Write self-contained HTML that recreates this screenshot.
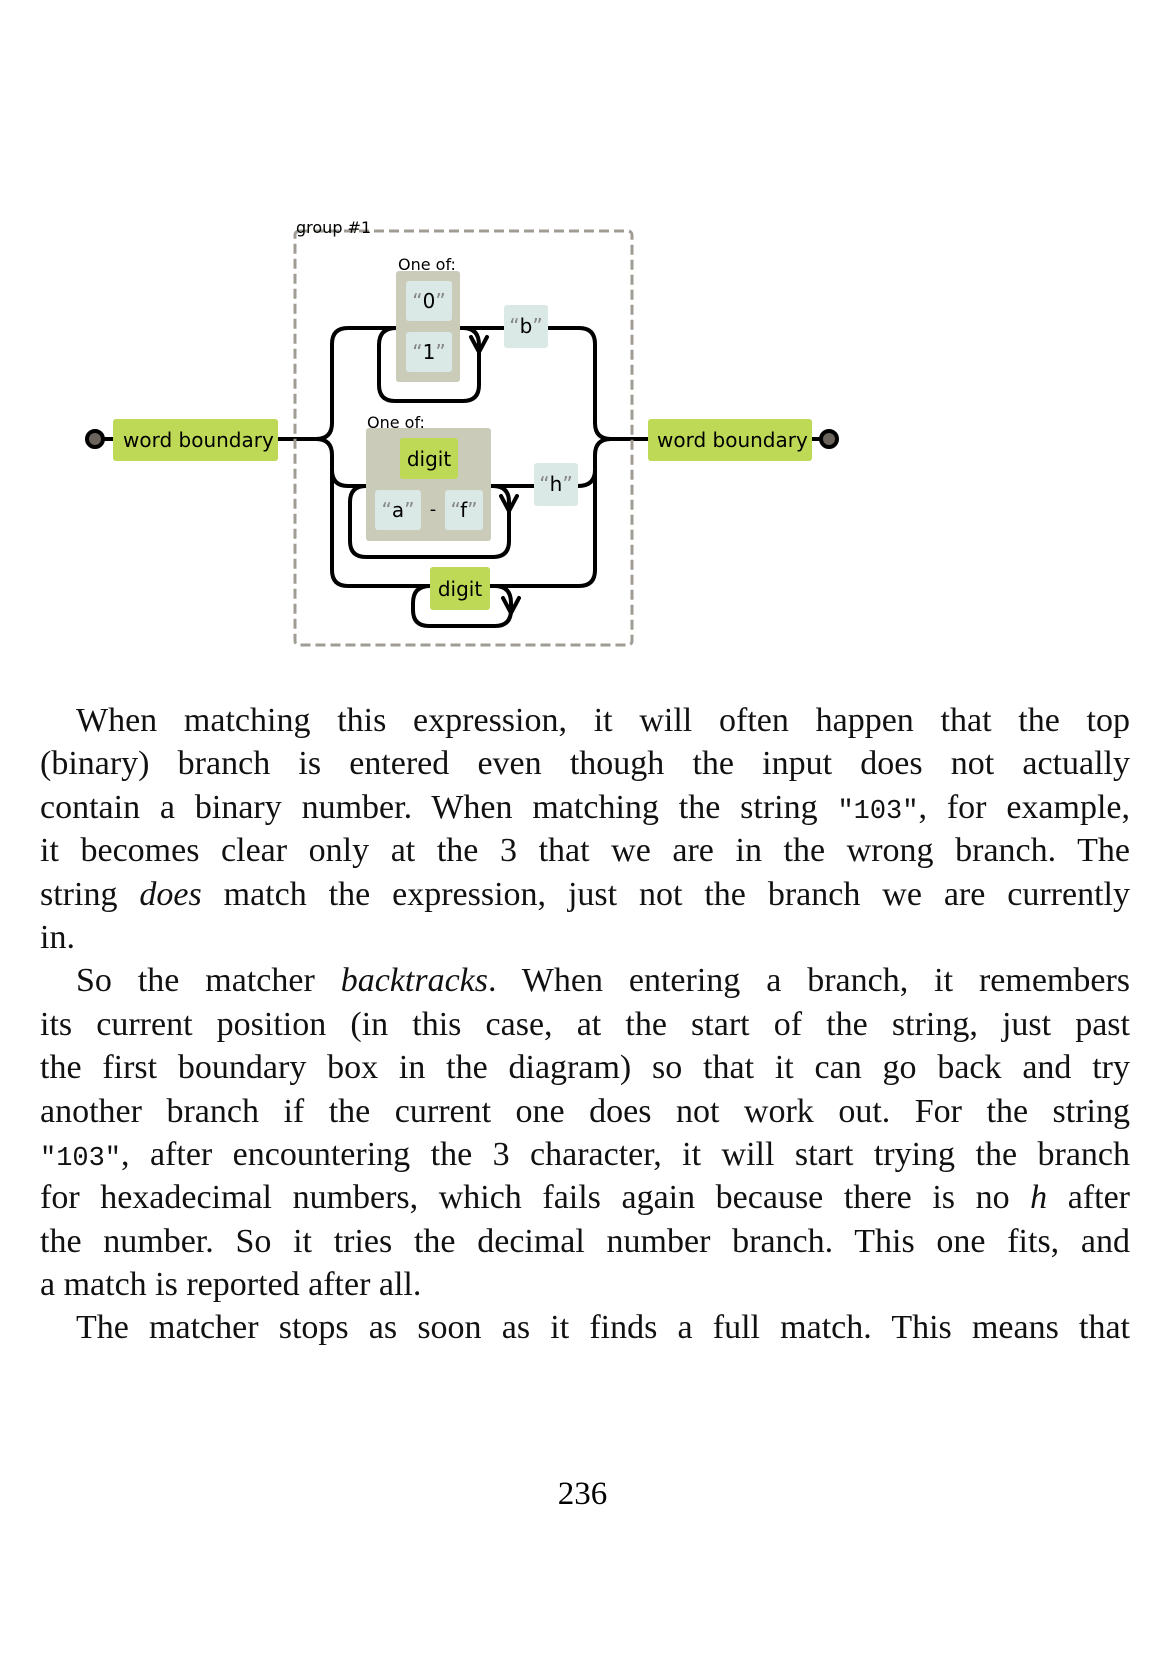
<!DOCTYPE html>
<html><head><meta charset="utf-8">
<style>
html,body{margin:0;padding:0;background:#fff;}
body{width:1165px;height:1654px;position:relative;overflow:hidden;font-family:"Liberation Serif",serif;}
#diagram{position:absolute;left:0;top:0;}
.txt{position:absolute;left:40px;width:1090px;top:699px;font-size:34px;color:#111;}
.ln{height:43.4px;line-height:43.4px;text-align:justify;text-align-last:justify;white-space:normal;}
.ln.last{text-align-last:left;}
.ind{text-indent:36px;}
code{font-family:"Liberation Mono",monospace;font-size:27px;}
#pagenum{position:absolute;left:0;width:1165px;top:1476px;text-align:center;font-size:33px;}
</style></head>
<body>
<svg id="diagram" width="1165" height="680" viewBox="0 0 1165 680" font-family="DejaVu Sans, sans-serif">
 <g fill="none" stroke="#000" stroke-width="4" stroke-linecap="round" stroke-linejoin="round">
  <path d="M95 439 H113 M278 439 H316 Q332 439 332 423 V344 Q332 328 348 328 H396 M460 328 H505 M549 328 H579 Q595 328 595 344 V423 Q595 439 611 439 H648 M812 439 H829"/>
  <path d="M316 439 Q332 439 332 455 V570 Q332 586 348 586 H430 M490 586 H579 Q595 586 595 570 V455 Q595 439 611 439"/>
  <path d="M332 470 Q332 486 348 486 H366 M491 486 H534 M578 486 Q595 486 595 470"/>
  <path d="M396 328 Q379 328 379 345 V385 Q379 401 395 401 H463 Q479 401 479 385 V345 Q479 328 463 328 H460"/>
  <path d="M471 337 L479 352 L487 337"/>
  <path d="M366 486 Q350 486 350 502 V541 Q350 557 366 557 H493 Q509 557 509 541 V502 Q509 486 493 486 H491"/>
  <path d="M501 496 L509 511 L517 496"/>
  <path d="M430 586 Q413 586 413 603 V610 Q413 626 429 626 H495 Q511 626 511 610 V603 Q511 586 495 586 H490"/>
  <path d="M503 598 L511 613 L519 598"/>
 </g>
 <circle cx="95" cy="439" r="8" fill="#6b645d" stroke="#000" stroke-width="4"/>
 <circle cx="829" cy="439" r="8" fill="#6b645d" stroke="#000" stroke-width="4"/>
 <rect x="295" y="231" width="337" height="414" rx="4" fill="none" stroke="#a09c94" stroke-width="3" stroke-dasharray="10,5"/>
 <text x="296" y="233" font-size="16" fill="#000">group #1</text>
 <g><rect x="113" y="419" width="165" height="42" rx="3" fill="#bdd955"/><text x="123" y="447" font-size="20">word boundary</text></g>
 <g><rect x="648" y="419" width="164" height="42" rx="3" fill="#bdd955"/><text x="657" y="447" font-size="20">word boundary</text></g>
 <text x="398" y="270" font-size="16">One of:</text>
 <rect x="396" y="271" width="64" height="111" rx="3" fill="#cbcbba"/>
 <rect x="406" y="281" width="46" height="40" rx="3" fill="#dae9e5"/>
 <text x="429" y="308" font-size="20" text-anchor="middle"><tspan fill="#888">“</tspan>0<tspan fill="#888">”</tspan></text>
 <rect x="406" y="332" width="46" height="40" rx="3" fill="#dae9e5"/>
 <text x="429" y="359" font-size="20" text-anchor="middle"><tspan fill="#888">“</tspan>1<tspan fill="#888">”</tspan></text>
 <rect x="504" y="305" width="44" height="43" rx="3" fill="#dae9e5"/>
 <text x="526" y="333" font-size="20" text-anchor="middle"><tspan fill="#888">“</tspan>b<tspan fill="#888">”</tspan></text>
 <text x="367" y="428" font-size="16">One of:</text>
 <rect x="366" y="428" width="125" height="113" rx="3" fill="#cbcbba"/>
 <rect x="400" y="438" width="58" height="41" rx="3" fill="#bdd955"/>
 <text x="429" y="466" font-size="20" text-anchor="middle">digit</text>
 <rect x="375" y="490" width="46" height="40" rx="3" fill="#dae9e5"/>
 <text x="398" y="517" font-size="20" text-anchor="middle"><tspan fill="#888">“</tspan>a<tspan fill="#888">”</tspan></text>
 <text x="433" y="515" font-size="18" text-anchor="middle">-</text>
 <rect x="445" y="490" width="38" height="40" rx="3" fill="#dae9e5"/>
 <text x="464" y="517" font-size="20" text-anchor="middle"><tspan fill="#888">“</tspan>f<tspan fill="#888">”</tspan></text>
 <rect x="534" y="463" width="44" height="43" rx="3" fill="#dae9e5"/>
 <text x="556" y="491" font-size="20" text-anchor="middle"><tspan fill="#888">“</tspan>h<tspan fill="#888">”</tspan></text>
 <rect x="430" y="567" width="60" height="43" rx="3" fill="#bdd955"/>
 <text x="460" y="596" font-size="20" text-anchor="middle">digit</text>
</svg>
<div class="txt">
 <div class="ln ind">When matching this expression, it will often happen that the top</div>
 <div class="ln">(binary) branch is entered even though the input does not actually</div>
 <div class="ln">contain a binary number. When matching the string <code>"103"</code>, for example,</div>
 <div class="ln">it becomes clear only at the 3 that we are in the wrong branch. The</div>
 <div class="ln">string <i>does</i> match the expression, just not the branch we are currently</div>
 <div class="ln last">in.</div>
 <div class="ln ind">So the matcher <i>backtracks</i>. When entering a branch, it remembers</div>
 <div class="ln">its current position (in this case, at the start of the string, just past</div>
 <div class="ln">the first boundary box in the diagram) so that it can go back and try</div>
 <div class="ln">another branch if the current one does not work out. For the string</div>
 <div class="ln"><code>"103"</code>, after encountering the 3 character, it will start trying the branch</div>
 <div class="ln">for hexadecimal numbers, which fails again because there is no <i>h</i> after</div>
 <div class="ln">the number. So it tries the decimal number branch. This one fits, and</div>
 <div class="ln last">a match is reported after all.</div>
 <div class="ln ind">The matcher stops as soon as it finds a full match. This means that</div>
</div>
<div id="pagenum">236</div>
</body></html>
